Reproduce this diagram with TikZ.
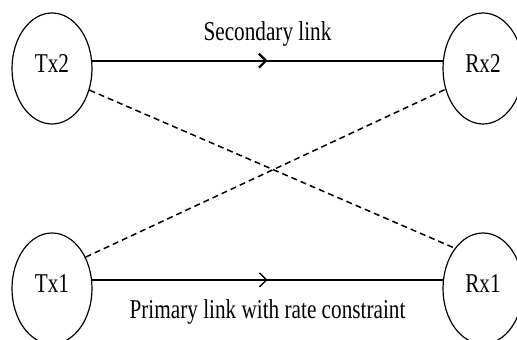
\documentclass[tikz,border=0pt]{standalone}
\usepackage{fontspec}
\setmainfont[FakeStretch=0.78]{Liberation Serif}
\usetikzlibrary{positioning,shapes.geometric,arrows.meta}
\usetikzlibrary{decorations.markings}

\begin{document}
\begin{tikzpicture}[x=0.5pt,y=-0.5pt,
  user/.style={draw=black, line width=0.6pt, ellipse, inner sep=0pt,
    minimum width=40pt, minimum height=55.5pt, text depth=5pt,
    font=\fontsize{13.6}{15}\selectfont},
  midarrow/.style={postaction={decorate}, decoration={markings,
    mark=at position 0.5 with {\arrow{Straight Barb[length=3.5pt,width=7pt]}}}},
  interf/.style={line width=0.75pt, dash pattern=on 3pt off 2pt},
  lbl/.style={font=\fontsize{13.6}{15}\selectfont}]
\useasboundingbox (0,0) rectangle (517,340);
\clip (0,0) rectangle (517,340);
% nodes
\node[user] (Tx2) at (52,68.5) {Tx2};
\node[user] (Rx2) at (483,68.5) {Rx2};
\node[user] (Tx1) at (52,288.5) {Tx1};
\node[user] (Rx1) at (483,288.5) {Rx1};
% links
\draw[line width=1.1pt, midarrow] (Tx2.11) -- (Rx2.169)
  node[lbl, midway, above=3.4pt] (sec) {Secondary link};
\draw[line width=0.7pt, midarrow] (Tx1.12) -- (Rx1.168)
  node[lbl, midway, below=6pt] (pri) {Primary link with rate constraint};
% interference
\draw[interf] (Tx2.-30.8) -- (Rx1.125.9);
\draw[interf] (Tx1.43.7) -- (Rx2.209.5);
\end{tikzpicture}
\end{document}
